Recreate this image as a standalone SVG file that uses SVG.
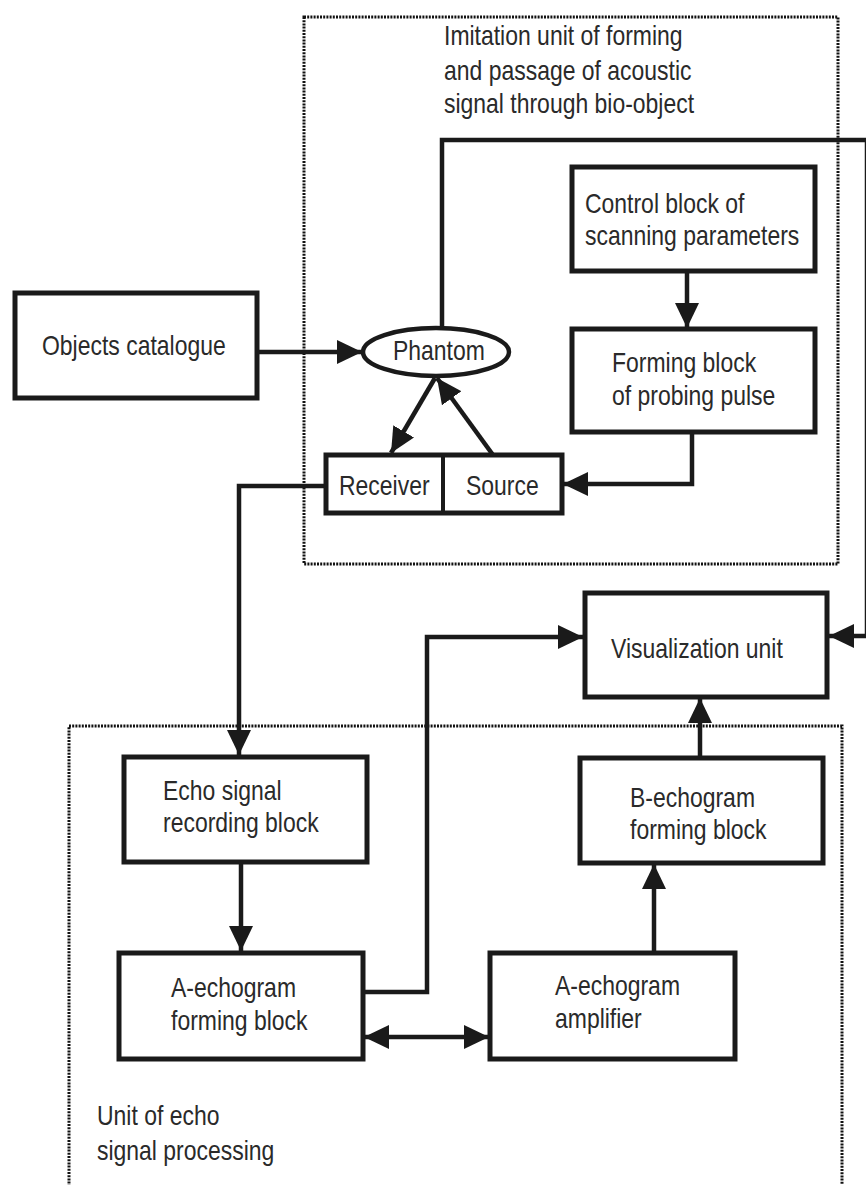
<svg xmlns="http://www.w3.org/2000/svg" width="866" height="1185" viewBox="0 0 866 1185">
<style>
.box{fill:#fff;stroke:#1a1a1a;stroke-width:5}
.ell{fill:#fff;stroke:#1a1a1a;stroke-width:4.5}
.unit{fill:none;stroke:#111;stroke-width:3;stroke-dasharray:2 1.2}
.ln{fill:none;stroke:#1a1a1a;stroke-width:4.5}
.arr{marker-end:url(#ah)}
text{font-family:"Liberation Sans",Arial,sans-serif;font-size:28px;fill:#2a2a2a}
</style>
<defs>
<marker id="ah" markerUnits="userSpaceOnUse" markerWidth="25" markerHeight="24" refX="25" refY="12" orient="auto-start-reverse" viewBox="0 0 25 24">
<path d="M0,0 L25,12 L0,24 z" fill="#1a1a1a"/>
</marker>
</defs>
<rect width="866" height="1185" fill="#fff"/>
<g id="unit-imitation">
<rect class="unit" x="304" y="17" width="534" height="547"/>
<text transform="translate(444 45) scale(0.82 1)">Imitation unit of forming</text>
<text transform="translate(444 80) scale(0.82 1)">and passage of acoustic</text>
<text transform="translate(444 113) scale(0.82 1)">signal through bio-object</text>
</g>
<g id="unit-processing">
<path class="unit" d="M69,1190 V726 H842 V1190"/>
<text transform="translate(97 1125) scale(0.82 1)">Unit of echo</text>
<text transform="translate(97 1160) scale(0.82 1)">signal processing</text>
</g>
<g id="connectors">
<path class="ln arr" d="M442,330 V140 H867 V636 H829"/>
<path class="ln arr" d="M257,352 H362"/>
<path class="ln arr" d="M435,378 L391,453"/>
<path class="ln arr" d="M493,455 L437,378"/>
<path class="ln arr" d="M687,272 V328"/>
<path class="ln arr" d="M692,432 V484 H563"/>
<path class="ln arr" d="M326,486 H239 V755"/>
<path class="ln arr" d="M241,862 V951"/>
<path class="ln arr" d="M363,992 H427 V637 H583"/>
<path class="ln arr" style="marker-start:url(#ah)" d="M364,1037 H489"/>
<path class="ln arr" d="M654,953 V864"/>
<path class="ln arr" d="M700,758 V698"/>
</g>
<g id="objects-catalogue">
<rect class="box" x="15" y="293" width="242" height="105"/>
<text transform="translate(42 355) scale(0.82 1)">Objects catalogue</text>
</g>
<g id="phantom">
<ellipse class="ell" cx="436" cy="352" rx="73" ry="24"/>
<text transform="translate(393 360) scale(0.82 1)">Phantom</text>
</g>
<g id="receiver-source">
<rect class="box" x="326" y="455" width="236" height="58"/>
<line x1="443" y1="455" x2="443" y2="513" stroke="#1a1a1a" stroke-width="4"/>
<text transform="translate(339 495) scale(0.82 1)">Receiver</text>
<text transform="translate(466 495) scale(0.82 1)">Source</text>
</g>
<g id="control-block">
<rect class="box" x="572" y="167" width="243" height="104"/>
<text transform="translate(585 213) scale(0.82 1)">Control block of</text>
<text transform="translate(585 245) scale(0.82 1)">scanning parameters</text>
</g>
<g id="forming-block">
<rect class="box" x="572" y="329" width="243" height="103"/>
<text transform="translate(612 372) scale(0.82 1)">Forming block</text>
<text transform="translate(612 405) scale(0.82 1)">of probing pulse</text>
</g>
<g id="visualization-unit">
<rect class="box" x="585" y="593" width="242" height="104"/>
<text transform="translate(611 658) scale(0.82 1)">Visualization unit</text>
</g>
<g id="echo-recording">
<rect class="box" x="124" y="757" width="243" height="105"/>
<text transform="translate(163 800) scale(0.82 1)">Echo signal</text>
<text transform="translate(163 832) scale(0.82 1)">recording block</text>
</g>
<g id="a-echogram-forming">
<rect class="box" x="119" y="953" width="244" height="106"/>
<text transform="translate(171 997) scale(0.82 1)">A-echogram</text>
<text transform="translate(171 1030) scale(0.82 1)">forming block</text>
</g>
<g id="a-echogram-amplifier">
<rect class="box" x="490" y="953" width="245" height="106"/>
<text transform="translate(555 995) scale(0.82 1)">A-echogram</text>
<text transform="translate(555 1028) scale(0.82 1)">amplifier</text>
</g>
<g id="b-echogram-forming">
<rect class="box" x="580" y="758" width="243" height="105"/>
<text transform="translate(630 807) scale(0.82 1)">B-echogram</text>
<text transform="translate(630 839) scale(0.82 1)">forming block</text>
</g>
</svg>
